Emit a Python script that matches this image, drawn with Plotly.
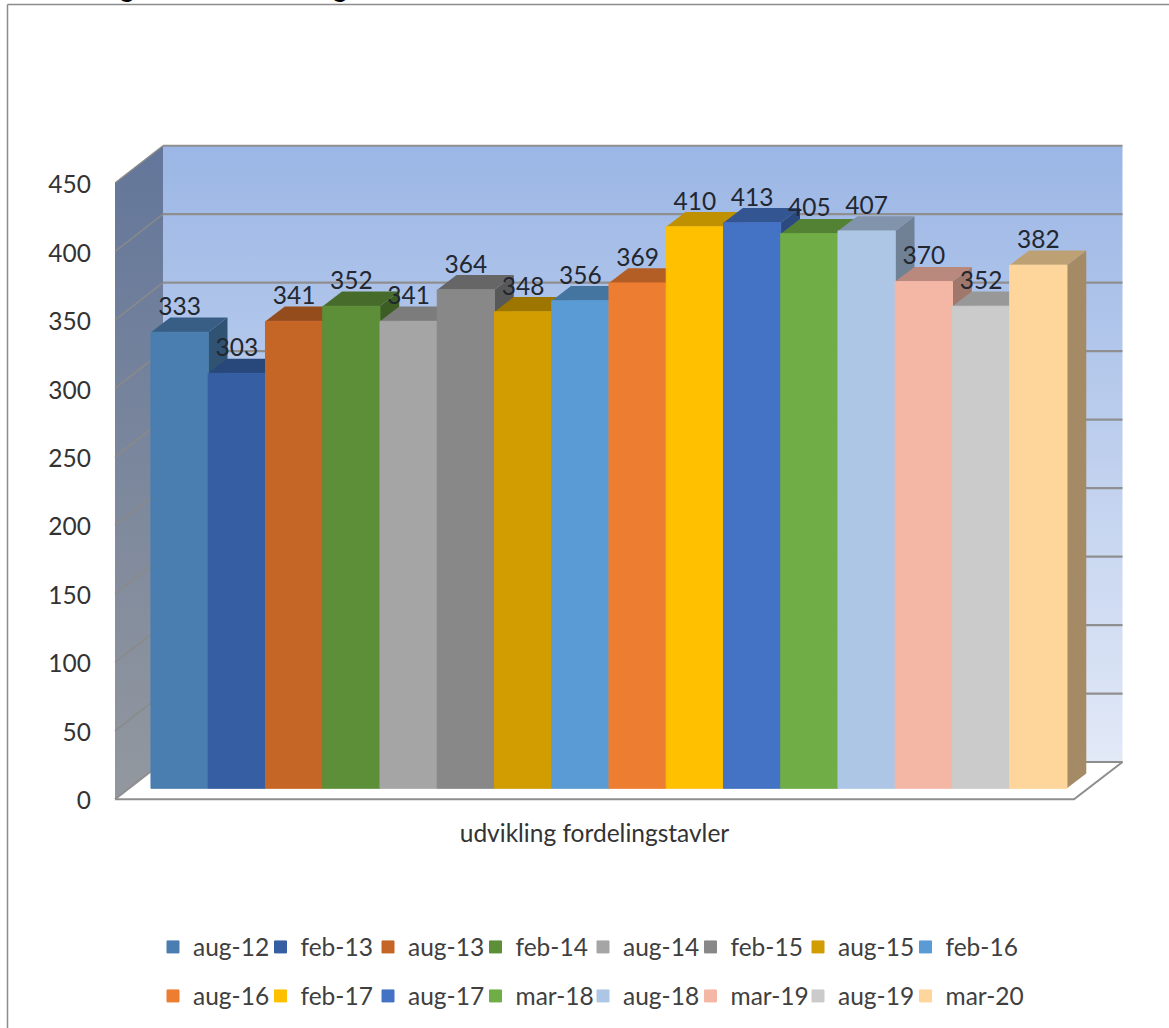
import plotly.graph_objects as go

# ---- data ----
PERIODS = ["aug-12", "feb-13", "aug-13", "feb-14", "aug-14", "feb-15", "aug-15", "feb-16",
           "aug-16", "feb-17", "aug-17", "mar-18", "aug-18", "mar-19", "aug-19", "mar-20"]
VALUES = [333, 303, 341, 352, 341, 364, 348, 356, 369, 410, 413, 405, 407, 370, 352, 382]
COLORS = ["#4a7eb1", "#365fa3", "#c56627", "#5d8f38", "#a5a5a5", "#888888", "#d19d00", "#5b9bd5",
          "#ed7d31", "#ffc000", "#4472c4", "#70ad47", "#adc6e5", "#f5b7a5", "#cbcbcb", "#fed69c"]
TICKS = [0, 50, 100, 150, 200, 250, 300, 350, 400, 450]
CATEGORY = "udvikling fordelingstavler"

# ---- projection of the pseudo 3D box, in page pixels ----
W, H = 1169, 1028
S = 1.3695            # px per value unit
BAR_W = 57.25         # px per bar
BAR_X0 = 179.6        # px of first bar centre
FRONT_Y0 = 799.3      # px of value 0 at front of the floor
AXIS_Y0 = 800.8       # px of value 0 for the tick labels (just under the wall)
BAR_Y0 = 788.3        # px of value 0 at the bar fronts
WALL = (AXIS_Y0 - FRONT_Y0) / S   # wall offset on the labelled axis
BACK_UP = 37.3 / S    # floor depth, in value units
BAR_DX = 19.3 / BAR_W # bar depth, in bar units
BAR_DY = 14.7 / S
FONT = "Lato"
FSIZE = 24.5
TEXT = "#333333"


def ux(px):
    return (px - BAR_X0) / BAR_W


XR = [ux(0), ux(W)]
WL, WB, WR, FR = ux(115), ux(163), ux(1122.5), ux(1074)
B0, F0 = WALL + BACK_UP, WALL


def shade(c, f):
    r, g, b = int(c[1:3], 16), int(c[3:5], 16), int(c[5:7], 16)
    return f"rgb({r*f:.0f},{g*f:.0f},{b*f:.0f})"


def poly(xs, ys, color, xa="x", ya="y", **kw):
    return go.Scatter(x=xs, y=ys, mode="lines", fill="toself", fillcolor=color, line=dict(width=0),
                      hoverinfo="skip", showlegend=False, xaxis=xa, yaxis=ya, **kw)


def line(xs, ys, color, width):
    return go.Scatter(x=xs, y=ys, mode="lines", line=dict(color=color, width=width),
                      hoverinfo="skip", showlegend=False, xaxis="x", yaxis="y")


fig = go.Figure()
top = TICKS[-1]

# back wall
fig.add_trace(poly([WB, WR, WR, WB, WB], [B0, B0, top + B0, top + B0, B0], "#b4c7ea",
                   fillgradient=dict(type="vertical", colorscale=[[0, "#e2e9f7"], [1, "#9bb6e5"]])))
# left wall
fig.add_trace(poly([WL, WB, WB, WL, WL], [F0, B0, top + B0, top + F0, F0], "#7a869c",
                   fillgradient=dict(type="vertical", colorscale=[[0, "#93989f"], [1, "#63769a"]])))
# floor
fig.add_trace(go.Scatter(x=[WL, FR, WR, WB, WL], y=[F0, F0, B0, B0, F0], mode="lines", fill="toself",
                         fillcolor="#ffffff", line=dict(color="#8e8e8e", width=2), hoverinfo="skip",
                         showlegend=False))
# gridlines
for t in TICKS[1:]:
    fig.add_trace(line([WL, WB], [t + F0, t + B0], "#8a8a88", 1.5))
    fig.add_trace(line([WB, WR], [t + B0, t + B0], "#8f8f90", 2.2))

# bar tops and sides (painted left to right)
for i, (v, c) in enumerate(zip(VALUES, COLORS)):
    l, r = i - 0.5, i + 0.5
    fig.add_trace(poly([r, r + BAR_DX, r + BAR_DX, r, r], [0, BAR_DY, v + BAR_DY, v, 0], shade(c, 0.65), "x2", "y2"))
    fig.add_trace(poly([l, r, r + BAR_DX, l + BAR_DX, l], [v, v, v + BAR_DY, v + BAR_DY, v], shade(c, 0.75), "x2", "y2"))

# bar fronts
for i, (name, v, c) in enumerate(zip(PERIODS, VALUES, COLORS)):
    extra = dict(legendwidth=95) if i in (7, 15) else {}
    fig.add_trace(go.Bar(x=[i], y=[v], width=1, name=name, marker=dict(color=c, line=dict(color=c, width=1)),
                         xaxis="x3", yaxis="y3", legend="legend" if i < 8 else "legend2", **extra))

# data labels
fig.add_trace(go.Scatter(x=list(range(len(VALUES))), y=[v + 17 for v in VALUES], text=[str(v) for v in VALUES],
                         mode="text", textposition="middle center", showlegend=False, hoverinfo="skip",
                         textfont=dict(family=FONT, size=FSIZE, color="#222730"), xaxis="x3", yaxis="y3"))

hidden = dict(visible=False, fixedrange=True)
bar_range = [(BAR_Y0 - H) / S, BAR_Y0 / S]
legend_base = dict(orientation="h", xanchor="left", yanchor="middle", entrywidth=62.5, entrywidthmode="pixels",
                   bgcolor="rgba(0,0,0,0)", traceorder="normal", font=dict(family=FONT, size=FSIZE, color="#404040"))

fig.update_layout(
    width=W, height=H, margin=dict(l=0, r=0, t=0, b=0, autoexpand=False),
    paper_bgcolor="white", plot_bgcolor="white", barmode="overlay",
    xaxis=dict(range=XR, domain=[0, 1], anchor="free", position=1 - 816 / H, tickmode="array",
               tickvals=[ux(594.5)], ticktext=[CATEGORY], showgrid=False, zeroline=False, showline=False,
               ticks="", tickfont=dict(family=FONT, size=FSIZE, color=TEXT), fixedrange=True),
    yaxis=dict(range=[(AXIS_Y0 - H) / S, AXIS_Y0 / S], domain=[0, 1], anchor="free", position=91 / W,
               tickmode="array", tickvals=TICKS, showgrid=False, zeroline=False, showline=False, ticks="",
               tickfont=dict(family=FONT, size=FSIZE, color=TEXT), fixedrange=True),
    xaxis2=dict(range=XR, overlaying="x", anchor="y2", **hidden),
    yaxis2=dict(range=bar_range, overlaying="y", anchor="x2", **hidden),
    xaxis3=dict(range=XR, overlaying="x", anchor="y3", **hidden),
    yaxis3=dict(range=bar_range, overlaying="y", anchor="x3", **hidden),
    legend=dict(x=153 / W, y=1 - 947 / H, **legend_base),
    legend2=dict(x=153 / W, y=1 - 996 / H, **legend_base),
    shapes=[
        dict(type="line", xref="paper", yref="paper", x0=7.5 / W, x1=7.5 / W, y0=0, y1=1 - 4.5 / H,
             line=dict(color="#8c8c8c", width=1.5)),
        dict(type="line", xref="paper", yref="paper", x0=7.5 / W, x1=1, y0=1 - 4.5 / H, y1=1 - 4.5 / H,
             line=dict(color="#8c8c8c", width=1.5)),
    ],
    annotations=[
        dict(text="g", xref="paper", yref="paper", x=px / W, y=1 - 3 / H, xanchor="center", yanchor="bottom",
             showarrow=False, font=dict(family="Liberation Sans", size=32, color="#000000"), borderpad=0)
        for px in (127, 340)
    ],
)
fig.write_html("out.html", config=dict(displayModeBar=False), post_script="document.body.style.margin='0';")
